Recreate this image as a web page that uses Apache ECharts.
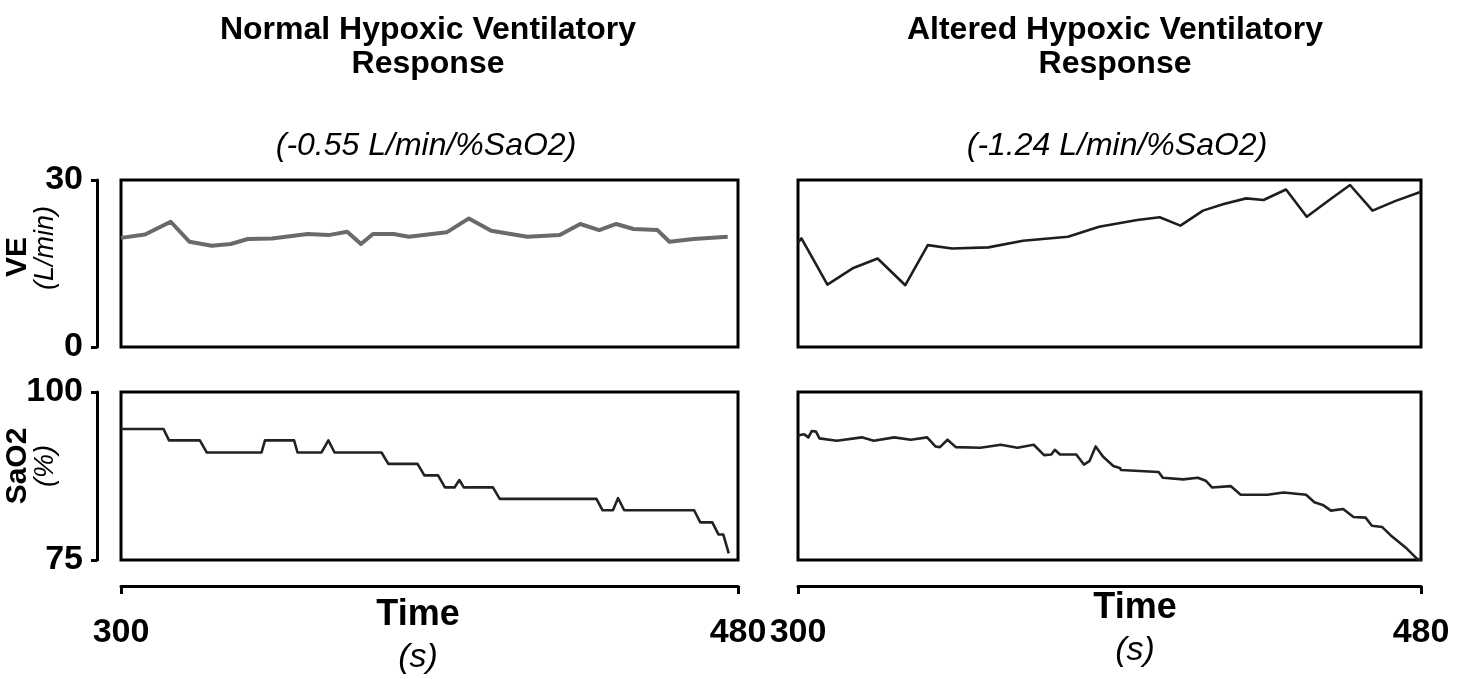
<!DOCTYPE html>
<html>
<head>
<meta charset="utf-8">
<script src="https://cdn.jsdelivr.net/npm/echarts@6/dist/echarts.min.js"></script>
<style>
html,body{margin:0;padding:0;background:#fff;}
#chart{width:1461px;height:679px;}
</style>
</head>
<body>
<div id="chart"></div>
<script>
// ---- Data (time in s) ----
const timeTicks = [300, 480];
const veTicks = [0, 30];
const saTicks = [75, 100];

const normalVE = [[300,19.6],[307,20.2],[314.5,22.5],[320,18.9],[326.5,18.2],[332,18.5],[337,19.4],[344,19.5],[354.5,20.3],[360.5,20.1],[366,20.7],[370,18.5],[373.5,20.3],[379.5,20.3],[384,19.8],[395,20.6],[401.5,23.1],[408,20.9],[418.5,19.8],[428,20.1],[434,22.1],[439.5,21.0],[444.5,22.1],[449.5,21.2],[456.5,21.0],[460,18.9],[467,19.4],[477,19.8]];

const alteredVE = [[300,18.8],[301,19.5],[308.5,11.2],[316,14.2],[323,15.9],[331,11.1],[337.5,18.3],[344.5,17.7],[355,17.9],[365,19.1],[378,19.8],[387,21.6],[398,22.8],[404.5,23.3],[410.5,21.8],[417,24.5],[423,25.7],[429.5,26.7],[434.5,26.4],[441,28.3],[447,23.4],[453.5,26.4],[459.5,29.1],[466,24.5],[472.5,26.2],[480,27.9]];

const normalSaO2 = [[300,94.5],[312.4,94.5],[314,92.8],[323,92.8],[325,91.0],[341,91.0],[342,92.8],[350.5,92.8],[351.5,91.0],[358.5,91.0],[360.5,92.8],[362.3,91.0],[376,91.0],[378,89.3],[386.5,89.3],[388.5,87.6],[392.5,87.6],[394.5,85.8],[397.3,85.8],[398.7,86.9],[400,85.8],[408.5,85.8],[410.5,84.1],[438.7,84.1],[440.5,82.4],[443.5,82.4],[445,84.2],[446.8,82.4],[467.2,82.4],[469,80.6],[472.5,80.6],[474.3,78.8],[475.7,78.8],[477.3,76.0]];

const alteredSaO2 = [[300,93.4],[300.6,93.6],[301.8,93.7],[303,93.25],[304,94.2],[305.2,94.1],[306.2,93.1],[311.2,92.75],[318.4,93.25],[321.9,92.75],[327.8,93.25],[332.6,92.9],[337.3,93.25],[339.7,91.9],[341,91.8],[343.2,92.9],[345.6,91.8],[352.7,91.7],[358.6,92.15],[363.4,91.7],[368.1,92.15],[371.1,90.6],[373.2,90.7],[374.2,91.4],[375.7,90.7],[380.4,90.7],[382.6,89.2],[384.2,89.7],[386,91.9],[388.1,90.4],[391.1,89.0],[393,88.7],[393.3,88.4],[400,88.2],[404.2,88.1],[405.4,87.25],[411.3,87.0],[415.5,87.25],[417.8,86.8],[419.6,85.8],[425,86.0],[427.9,84.7],[435.6,84.7],[440.3,85.05],[446.8,84.7],[449.2,83.6],[451.6,83.2],[454,82.35],[457.5,82.6],[460.5,81.4],[464,81.3],[465.8,80.1],[468.8,79.9],[471.2,78.7],[473.5,77.7],[475.9,76.7],[478.8,75.2],[480,75.0]];

const panelTitles = ['Normal Hypoxic Ventilatory', 'Altered Hypoxic Ventilatory'];
const slopes = ['(-0.55 L/min/%SaO2)', '(-1.24 L/min/%SaO2)'];

// ---- Chart ----
const FONT = "'Liberation Sans', Arial, Helvetica, sans-serif";
const chart = echarts.init(document.getElementById('chart'), null, {renderer: 'canvas'});

const grids = [
  {left: 121, top: 180, width: 617, height: 167},
  {left: 798, top: 180, width: 623, height: 167},
  {left: 121, top: 392, width: 617, height: 168},
  {left: 798, top: 392, width: 623, height: 168}
].map(g => Object.assign(g, {show: true, borderColor: '#000', borderWidth: 3, backgroundColor: 'transparent', containLabel: false}));

function xAxisDef(i, visible) {
  return {
    type: 'value', gridIndex: i, min: timeTicks[0], max: timeTicks[1],
    show: visible, position: 'bottom', offset: 26,
    splitLine: {show: false},
    axisLine: {show: true, lineStyle: {color: '#000', width: 3}},
    axisTick: {show: true, length: 8, lineStyle: {color: '#000', width: 3}, customValues: timeTicks},
    axisLabel: {show: true, customValues: timeTicks, margin: 30, color: '#000', fontFamily: FONT, fontWeight: 'bold', fontSize: 34}
  };
}
function yAxisDef(i, ticks, visible) {
  return {
    type: 'value', gridIndex: i, min: ticks[0], max: ticks[1], interval: ticks[1] - ticks[0],
    show: visible, position: 'left', offset: 24,
    splitLine: {show: false},
    axisLine: {show: true, lineStyle: {color: '#000', width: 3}},
    axisTick: {show: true, length: 6, lineStyle: {color: '#000', width: 3}},
    axisLabel: {show: true, margin: 14, color: '#000', fontFamily: FONT, fontWeight: 'bold', fontSize: 34}
  };
}

function txt(x, y, text, size, weight, style, rot) {
  return {
    type: 'text', x: x, y: y, rotation: rot || 0, silent: true,
    style: {text: text, fill: '#000', fontFamily: FONT, fontSize: size, fontWeight: weight, fontStyle: style,
      align: 'center', verticalAlign: 'middle', textAlign: 'center', textVerticalAlign: 'middle'}
  };
}

const option = {
  backgroundColor: '#fff',
  animation: false,
  grid: grids,
  xAxis: [xAxisDef(0, false), xAxisDef(1, false), xAxisDef(2, true), xAxisDef(3, true)],
  yAxis: [yAxisDef(0, veTicks, true), yAxisDef(1, veTicks, false), yAxisDef(2, saTicks, true), yAxisDef(3, saTicks, false)],
  series: [
    {type: 'line', xAxisIndex: 0, yAxisIndex: 0, data: normalVE, symbol: 'none', lineStyle: {color: '#6a6a6a', width: 4, join: 'round'}},
    {type: 'line', xAxisIndex: 1, yAxisIndex: 1, data: alteredVE, symbol: 'none', lineStyle: {color: '#1e1e1e', width: 2.6, join: 'round'}},
    {type: 'line', xAxisIndex: 2, yAxisIndex: 2, data: normalSaO2, symbol: 'none', lineStyle: {color: '#222', width: 2.6, join: 'round'}},
    {type: 'line', xAxisIndex: 3, yAxisIndex: 3, data: alteredSaO2, symbol: 'none', lineStyle: {color: '#222', width: 2.6, join: 'round'}}
  ],
  graphic: [
    txt(428, 30, panelTitles[0], 32, 'bold', 'normal'),
    txt(428, 64, 'Response', 32, 'bold', 'normal'),
    txt(1115, 30, panelTitles[1], 32, 'bold', 'normal'),
    txt(1115, 64, 'Response', 32, 'bold', 'normal'),
    txt(426, 146, slopes[0], 32, 'normal', 'italic'),
    txt(1117, 146, slopes[1], 32, 'normal', 'italic'),
    txt(18, 257, 'VE', 30, 'bold', 'normal', Math.PI / 2),
    txt(45, 248, '(L/min)', 27, 'normal', 'italic', Math.PI / 2),
    txt(18, 466, 'SaO2', 30, 'bold', 'normal', Math.PI / 2),
    txt(45, 466, '(%)', 27, 'normal', 'italic', Math.PI / 2),
    txt(418, 615, 'Time', 36, 'bold', 'normal'),
    txt(418, 658, '(s)', 34, 'normal', 'italic'),
    txt(1135, 608, 'Time', 36, 'bold', 'normal'),
    txt(1135, 651, '(s)', 34, 'normal', 'italic')
  ]
};
chart.setOption(option);
</script>
</body>
</html>
